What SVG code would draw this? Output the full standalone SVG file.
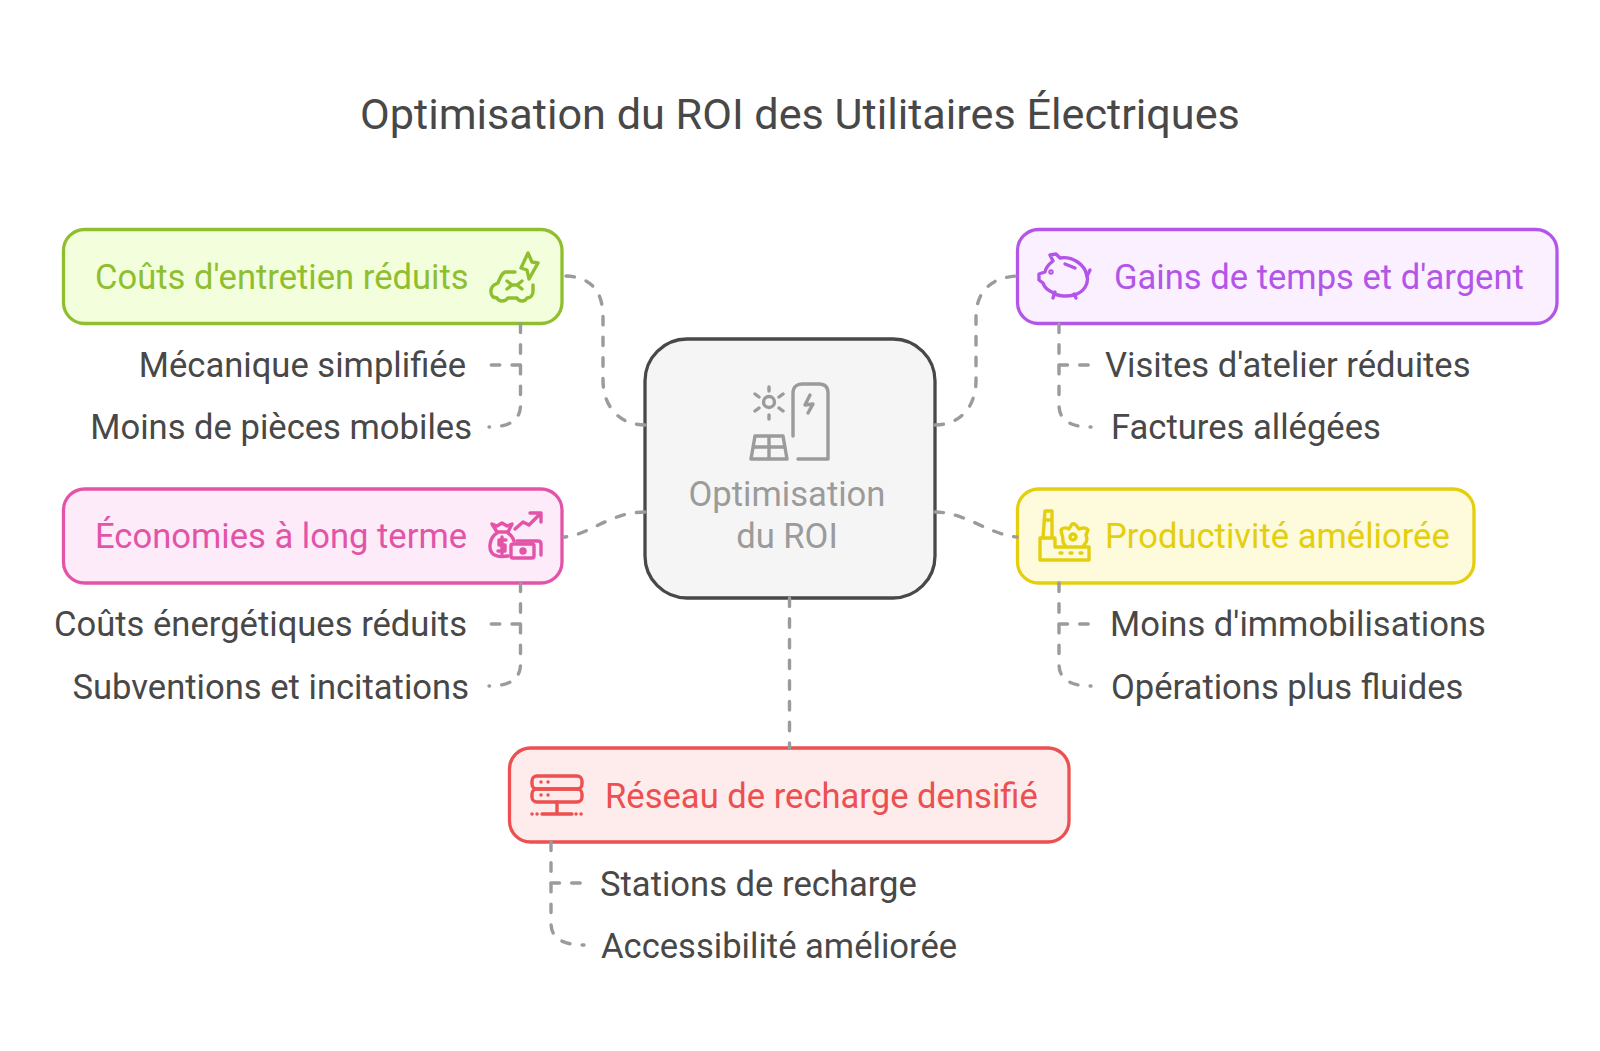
<svg xmlns="http://www.w3.org/2000/svg" width="1600" height="1051" viewBox="0 0 1600 1051">
<style>
text{font-family:Roboto,"Noto Sans",sans-serif;}
.t{font-size:43.2px;fill:#484848;text-anchor:middle}
.h{font-size:34.6px}
.s{font-size:34.6px;fill:#484848}
.c{fill:none;stroke:#9b9b9b;stroke-width:3.4;stroke-dasharray:8.500 12.200;stroke-linecap:round}
.b{stroke-width:3.3}
.i{fill:none;stroke-width:3.4;stroke-linecap:round;stroke-linejoin:round}
</style>
<rect width="1600" height="1051" fill="#fff"/>
<text class="t" x="800" y="129">Optimisation du ROI des Utilitaires Électriques</text>
<g id="center">
<rect x="645" y="339" width="290" height="259" rx="42" fill="#f5f5f5" stroke="#484848" stroke-width="3.300"/>
<g class="i" stroke="#9b9b9b">
<circle cx="769" cy="402" r="5.500"/>
<path d="M769 387V391M769 415V419M755 394L759 397M779 408L783 411M755 411L759 408M779 397L783 394"/>
<path d="M793 436V393C793 387 797 384 802 384H819C825 384 828 387 828 393V459H798"/>
<path d="M810 395L805 405L813 404L808 413"/>
<path d="M755 436H783L787 459H751ZM769 436V459M753 447H785"/>
</g>
<text x="787" y="506" text-anchor="middle" font-size="34.600" fill="#9b9b9b">Optimisation</text>
<text x="787" y="548" text-anchor="middle" font-size="34.600" fill="#9b9b9b">du ROI</text>
</g>
<g id="couts">
<rect class="b" x="63.500" y="229.500" width="498.500" height="94" rx="21" fill="#f3fedd" stroke="#8fbf2f"/>
<text class="h" x="95" y="289" fill="#8fbf2f">Coûts d'entretien réduits</text>
<g class="i" stroke="#8fbf2f">
<path d="M515 272H506C502 272 500 278 498 283L494 285C490 288 490 294 493 297L497 298C499 302 505 302 508 298H517C519 302 525 302 527 298C531 298 533 295 533 291V285"/>
<path d="M507 281L512 285H517L522 281M507 289L512 285M517 285L522 289"/>
<path d="M528 253L521 268L527 270L529 279L538 263L532 262Z"/>
</g>
</g>
<text class="s" x="466" y="377" text-anchor="end">Mécanique simplifiée</text>
<text class="s" x="472" y="439" text-anchor="end">Moins de pièces mobiles</text>
<g id="economies">
<rect class="b" x="63.500" y="489" width="498.500" height="94" rx="21" fill="#feebf9" stroke="#e354a8"/>
<text class="h" x="95" y="548" fill="#e354a8">Économies à long terme</text>
<g class="i" stroke="#e354a8">
<path d="M492 524L497 526L502 523L507 526L512 524L508 532H497ZM497 533C490 537 488 548 492 553C495 557 501 557 508 556M508 533C511 535 513 538 514 541"/>
<path d="M506 540H499V545H505V551H498M502 537V554"/>
<rect x="511" y="544" width="23" height="14" rx="2"/>
<circle cx="523" cy="551" r="2"/>
<path d="M517 541H538C540 541 541 542 541 544V555"/>
<path d="M515 529L523 522L529 525L541 513M530 513H541V522"/>
</g>
</g>
<text class="s" x="467" y="636" text-anchor="end">Coûts énergétiques réduits</text>
<text class="s" x="469" y="699" text-anchor="end">Subventions et incitations</text>
<g id="gains">
<rect class="b" x="1017.500" y="229.500" width="539.500" height="94" rx="21" fill="#faf0ff" stroke="#b356e8"/>
<text class="h" x="1114" y="289" fill="#b356e8">Gains de temps et d'argent</text>
<g class="i" stroke="#b356e8">
<path d="M1050 255L1056 254L1060 258C1072 256 1085 264 1087 276C1089 284 1084 292 1074 295C1066 297 1056 296 1052 292C1047 290 1044 286 1043 283L1039 280L1039 274L1045 272C1046 267 1049 264 1053 261Z"/>
<path d="M1055 292L1053 298M1074 294L1076 298M1065 264L1075 268M1090 270L1087 276"/>
<circle cx="1051" cy="272" r="1"/>
</g>
</g>
<text class="s" x="1105" y="377">Visites d'atelier réduites</text>
<text class="s" x="1111" y="439">Factures allégées</text>
<g id="productivite">
<rect class="b" x="1017.500" y="489" width="456.500" height="94" rx="21" fill="#fefadc" stroke="#e3cf0e"/>
<text class="h" x="1105" y="548" fill="#e3cf0e">Productivité améliorée</text>
<g class="i" stroke="#e3cf0e">
<path d="M1043 538H1040V560H1089V547H1055V538ZM1043 538L1045 511H1052V538M1044 520H1052"/>
<path d="M1065 545C1061 542 1064 537 1062 535L1061 530C1063 527 1067 528 1069 529L1072 524C1075 523 1077 526 1079 529C1082 528 1086 527 1088 530L1086 535C1087 538 1088 541 1084 545"/>
<circle cx="1073" cy="537" r="3"/>
<path d="M1060 553H1062M1070 553H1072M1080 553H1082"/>
</g>
</g>
<text class="s" x="1110" y="636">Moins d'immobilisations</text>
<text class="s" x="1111" y="699">Opérations plus fluides</text>
<g id="reseau">
<rect class="b" x="509.500" y="748" width="559.500" height="94" rx="21" fill="#feebeb" stroke="#ec5050"/>
<text class="h" x="605" y="808" fill="#ec5050">Réseau de recharge densifié</text>
<g class="i" stroke="#ec5050">
<rect x="532" y="776" width="50" height="13" rx="5"/>
<rect x="532" y="789" width="50" height="13" rx="5"/>
<path d="M557 802V813M542 814H572M532 814H532.100M537 814H537.100M576 814H576.100M581 814H581.100M541 782H541.100M548 782H548.100M541 795H541.100M548 795H548.100"/>
</g>
</g>
<text class="s" x="600" y="895.500">Stations de recharge</text>
<text class="s" x="601" y="958">Accessibilité améliorée</text>
<g id="connectors">
<path class="c" d="M645 425C620 425 603 407 603 380V317C603 290 590 277 566 276"/>
<path class="c" d="M935 425C960 425 976 407 976 380V317C976 290 993 277 1017 276"/>
<path class="c" d="M645 512C610 512 590 535 564 537"/>
<path class="c" d="M935 512C965 512 990 535 1017 537"/>
<path class="c" d="M789.500 598V748"/>
<path class="c" d="M520.500 324V405C520.500 420 510 427 489 427"/>
<path class="c" d="M520.500 365H490"/>
<path class="c" d="M520.500 583V664C520.500 679 510 686 489 686"/>
<path class="c" d="M520.500 624H490"/>
<path class="c" d="M1059 324V405C1059 420 1070 427 1091 427"/>
<path class="c" d="M1059 365H1090"/>
<path class="c" d="M1059 583V664C1059 679 1070 686 1091 686"/>
<path class="c" d="M1059 624H1090"/>
<path class="c" d="M551 842V923C551 938 562 945 584 945"/>
<path class="c" d="M551 883H582"/>
</g>
</svg>
